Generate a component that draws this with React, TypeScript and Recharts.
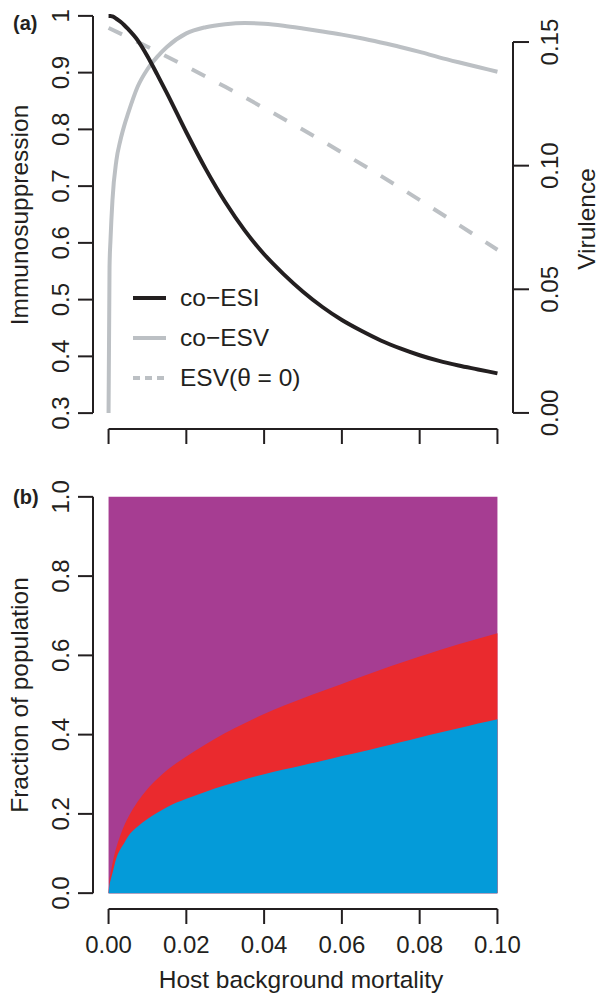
import { ComposedChart, Line, Area, XAxis, YAxis, ReferenceLine, Legend } from 'recharts';

const INK = '#231f20';
const GREY = '#bcc0c4';
const PURPLE = '#a63d92';
const RED = '#ea2a2e';
const BLUE = '#049bd9';
const FONT = '"Liberation Sans", Arial, Helvetica, sans-serif';

// host background mortality grid (denser near zero where curves rise fast)
const mortality = [
  0, 0.00025, 0.0005, 0.001, 0.002, 0.003, 0.004, 0.005, 0.0075, 0.01, 0.0125, 0.015,
  0.02, 0.025, 0.03, 0.035, 0.04, 0.045, 0.05, 0.055, 0.06, 0.065, 0.07, 0.075, 0.08,
  0.085, 0.09, 0.095, 0.1,
];

// (a) immunosuppression, left axis
const coESI = [
  1.0, 1.0, 1.0, 0.999, 0.995, 0.99, 0.984, 0.977, 0.957, 0.929, 0.897, 0.864,
  0.795, 0.73, 0.672, 0.622, 0.58, 0.545, 0.514, 0.487, 0.464, 0.445, 0.428, 0.414, 0.402,
  0.392, 0.384, 0.377, 0.37,
];

// (a) virulence, right axis
const coESV = [
  0, 0.059, 0.07, 0.086, 0.102, 0.11, 0.116, 0.121, 0.132, 0.139, 0.144, 0.148,
  0.1535, 0.156, 0.1572, 0.1577, 0.1574, 0.1566, 0.1555, 0.1543, 0.153, 0.1515, 0.1498, 0.148, 0.146,
  0.1438, 0.1418, 0.1399, 0.138,
];

const esv0Mortality = [0, 0.01, 0.02, 0.03, 0.04, 0.05, 0.06, 0.07, 0.08, 0.09, 0.1];
const esv0 = [0.1557, 0.1481, 0.1401, 0.1319, 0.1233, 0.1145, 0.1053, 0.0959, 0.0861, 0.0761, 0.066];

// (b) upper edges of the stacked bands
const blueTop = [
  0, 0.022, 0.032, 0.05, 0.088, 0.11, 0.126, 0.143, 0.168, 0.187, 0.203, 0.217,
  0.238, 0.256, 0.272, 0.287, 0.3, 0.312, 0.323, 0.334, 0.346, 0.357, 0.369, 0.381, 0.393,
  0.405, 0.416, 0.428, 0.439,
];
const redTop = [
  0, 0.035, 0.05, 0.075, 0.115, 0.145, 0.17, 0.19, 0.231, 0.263, 0.288, 0.31,
  0.345, 0.376, 0.404, 0.429, 0.452, 0.473, 0.492, 0.51, 0.528, 0.546, 0.564, 0.581, 0.597,
  0.613, 0.628, 0.642, 0.656,
];

const xTicks = [0, 0.02, 0.04, 0.06, 0.08, 0.1];
const immunoTicks = [0.3, 0.4, 0.5, 0.6, 0.7, 0.8, 0.9, 1.0];
const virulenceTicks = [0, 0.05, 0.1, 0.15];
const fractionTicks = [0, 0.2, 0.4, 0.6, 0.8, 1.0];

const X_DOMAIN: [number, number] = [-0.004, 0.104];
const IMMUNO_DOMAIN: [number, number] = [0.272, 1.028];
const VIR_DOMAIN: [number, number] = [-0.0065, 0.167];
const FRAC_DOMAIN: [number, number] = [-0.04, 1.04];

const esiData = mortality.map((x, i) => ({ x, v: coESI[i] }));
const esvData = mortality.map((x, i) => ({ x, v: coESV[i] }));
const esv0Data = esv0Mortality.map((x, i) => ({ x, v: esv0[i] }));
const bandData = mortality.map((x, i) => ({ x, whole: 1, red: redTop[i], blue: blueTop[i] }));

const legendItems = [
  { label: 'co\u2212ESI', color: INK, dash: undefined },
  { label: 'co\u2212ESV', color: GREY, dash: undefined },
  { label: 'ESV(\u03b8 = 0)', color: GREY, dash: '7 5' },
];

const axisStroke = { stroke: INK, strokeWidth: 2 };

function RotatedTick(props: any) {
  const { x, y, payload, fmt } = props;
  return (
    <text x={x} y={y} transform={`rotate(-90 ${x} ${y})`} textAnchor="middle"
      fontFamily={FONT} fontSize={24} fill={INK}>
      {fmt(payload.value)}
    </text>
  );
}

function FlatTick(props: any) {
  const { x, y, payload } = props;
  return (
    <text x={x} y={y} textAnchor="middle" fontFamily={FONT} fontSize={24} fill={INK}>
      {payload.value.toFixed(2)}
    </text>
  );
}

function LegendBox() {
  return (
    <div style={{ fontFamily: FONT, fontSize: 24.5, color: INK }}>
      {legendItems.map((item) => (
        <div key={item.label} style={{ display: 'flex', alignItems: 'center', height: 40 }}>
          <svg width={40} height={10}>
            <line x1={5} x2={38} y1={5} y2={5} stroke={item.color} strokeWidth={4}
              strokeDasharray={item.dash} />
          </svg>
          <span style={{ marginLeft: 12, whiteSpace: 'nowrap' }}>{item.label}</span>
        </div>
      ))}
    </div>
  );
}

export default function App() {
  return (
    <div style={{ position: 'absolute', left: 0, top: 0, width: 601, height: 994, background: '#fff' }}>
      {/* panel (a) */}
      <div style={{ position: 'absolute', left: 0, top: 0 }}>
        <ComposedChart width={601} height={460} margin={{ top: 0, right: 0, bottom: 0, left: 0 }}>
          <XAxis xAxisId="m" type="number" dataKey="x" domain={X_DOMAIN} ticks={xTicks}
            allowDataOverflow height={31} axisLine={false} tickSize={15} interval={0}
            tickLine={axisStroke} tick={() => <g />} />
          <YAxis yAxisId="left" type="number" domain={IMMUNO_DOMAIN} ticks={immunoTicks}
            allowDataOverflow width={93} axisLine={false} tickSize={15} tickMargin={9}
            interval={0} tickLine={axisStroke}
            tick={(p: any) => <RotatedTick {...p} fmt={(v: number) => (v === 1 ? '1' : v.toFixed(1))} />} />
          <YAxis yAxisId="right" orientation="right" type="number" domain={VIR_DOMAIN}
            ticks={virulenceTicks} allowDataOverflow width={88} axisLine={false} tickSize={16}
            tickMargin={29} interval={0} tickLine={axisStroke}
            tick={(p: any) => <RotatedTick {...p} fmt={(v: number) => v.toFixed(2)} />} />

          <ReferenceLine xAxisId="m" yAxisId="left" ifOverflow="visible" {...axisStroke}
            segment={[{ x: 0, y: IMMUNO_DOMAIN[0] }, { x: 0.1, y: IMMUNO_DOMAIN[0] }]} />
          <ReferenceLine xAxisId="m" yAxisId="left" ifOverflow="visible" {...axisStroke}
            segment={[{ x: X_DOMAIN[0], y: 0.3 }, { x: X_DOMAIN[0], y: 1.0 }]} />
          <ReferenceLine xAxisId="m" yAxisId="right" ifOverflow="visible" {...axisStroke}
            segment={[{ x: X_DOMAIN[1], y: 0 }, { x: X_DOMAIN[1], y: 0.15 }]} />

          <Line xAxisId="m" yAxisId="right" data={esv0Data} dataKey="v" type="monotone"
            stroke={GREY} strokeWidth={4} strokeDasharray="15 16" dot={false} activeDot={false}
            isAnimationActive={false} />
          <Line xAxisId="m" yAxisId="right" data={esvData} dataKey="v" type="monotone"
            stroke={GREY} strokeWidth={4} dot={false} activeDot={false} isAnimationActive={false} />
          <Line xAxisId="m" yAxisId="left" data={esiData} dataKey="v" type="monotone"
            stroke={INK} strokeWidth={4} dot={false} activeDot={false} isAnimationActive={false} />

          <Legend layout="vertical" align="center" verticalAlign="middle" content={<LegendBox />}
            wrapperStyle={{ left: 128, top: 278, width: 220, height: 120 }} />
        </ComposedChart>
      </div>

      {/* panel (b) */}
      <div style={{ position: 'absolute', left: 0, top: 470 }}>
        <ComposedChart width={601} height={524} data={bandData}
          margin={{ top: 11, right: 88, bottom: 0, left: 0 }}>
          <XAxis xAxisId="m" type="number" dataKey="x" domain={X_DOMAIN} ticks={xTicks}
            allowDataOverflow height={85} axisLine={false} tickSize={15} tickMargin={29}
            interval={0} tickLine={axisStroke} tick={(p: any) => <FlatTick {...p} />} />
          <YAxis yAxisId="f" type="number" domain={FRAC_DOMAIN} ticks={fractionTicks}
            allowDataOverflow width={93} axisLine={false} tickSize={15} tickMargin={9}
            interval={0} tickLine={axisStroke}
            tick={(p: any) => <RotatedTick {...p} fmt={(v: number) => v.toFixed(1)} />} />

          <Area xAxisId="m" yAxisId="f" dataKey="whole" type="monotone" baseValue={0}
            fill={PURPLE} fillOpacity={1} stroke="none" activeDot={false} isAnimationActive={false} />
          <Area xAxisId="m" yAxisId="f" dataKey="red" type="monotone" baseValue={0}
            fill={RED} fillOpacity={1} stroke="none" activeDot={false} isAnimationActive={false} />
          <Area xAxisId="m" yAxisId="f" dataKey="blue" type="monotone" baseValue={0}
            fill={BLUE} fillOpacity={1} stroke="none" activeDot={false} isAnimationActive={false} />

          <ReferenceLine xAxisId="m" yAxisId="f" ifOverflow="visible" {...axisStroke}
            segment={[{ x: 0, y: FRAC_DOMAIN[0] }, { x: 0.1, y: FRAC_DOMAIN[0] }]} />
          <ReferenceLine xAxisId="m" yAxisId="f" ifOverflow="visible" {...axisStroke}
            segment={[{ x: X_DOMAIN[0], y: 0 }, { x: X_DOMAIN[0], y: 1 }]} />
        </ComposedChart>
      </div>

      {/* titles and panel letters */}
      <svg width={601} height={994} style={{ position: 'absolute', left: 0, top: 0, pointerEvents: 'none' }}
        fontFamily={FONT} fill={INK}>
        <text x={13} y={30} fontSize={20} fontWeight="bold">(a)</text>
        <text x={13} y={504} fontSize={20} fontWeight="bold">(b)</text>
        <text x={28} y={215} fontSize={24.5} textAnchor="middle" transform="rotate(-90 28 215)">
          Immunosuppression
        </text>
        <text x={595} y={219} fontSize={24.5} textAnchor="middle" transform="rotate(-90 595 219)">
          Virulence
        </text>
        <text x={28} y={695} fontSize={24.5} textAnchor="middle" transform="rotate(-90 28 695)">
          Fraction of population
        </text>
        <text x={301} y={988} fontSize={24.5} textAnchor="middle">Host background mortality</text>
      </svg>
    </div>
  );
}
